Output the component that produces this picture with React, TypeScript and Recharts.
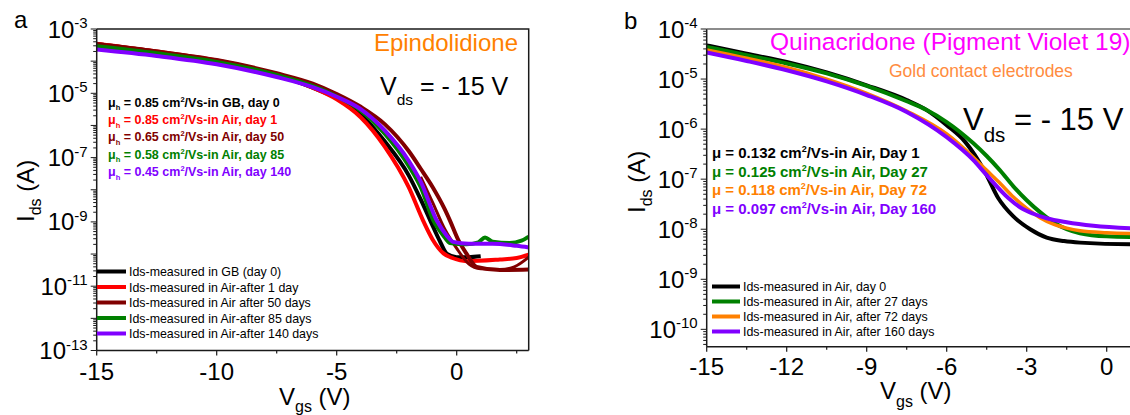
import React from 'react';
import { LineChart, Line, XAxis, YAxis } from 'recharts';

const FONT = '"Liberation Sans", Arial, Helvetica, sans-serif';

// ---------- Panel a : Epindolidione ----------
const aBlackV = [-15, -12.5, -10, -7.5, -6, -5, -4, -3, -2, -1.5, -1.1, -0.7, -0.4, 0, 0.5, 1.0];
const aBlackI = [3.4e-4, 1.95e-4, 1.0e-4, 3.7e-5, 1.5e-5, 7e-6, 2.2e-6, 3.2e-7, 2.8e-8, 5e-9, 1.1e-9, 2.5e-10, 1.0e-10, 8e-11, 8e-11, 8.5e-11];

const aRedV = [-15, -12.5, -10, -7.5, -6, -5, -4, -3, -2, -1.4, -1.0, -0.55, -0.15, 0.4, 1.8, 2.5, 3];
const aRedI = [3.5e-4, 2.0e-4, 1.05e-4, 3.8e-5, 1.5e-5, 6.5e-6, 1.8e-6, 2.2e-7, 1.2e-8, 1.1e-9, 2.8e-10, 1.05e-10, 7.4e-11, 6e-11, 6.8e-11, 7.5e-11, 9.5e-11];

const aDarkRedV = [-15, -12.5, -10, -7.5, -6, -5, -4, -3, -2, -1.5, -1, -0.5, -0.28, 0.07, 0.4, 0.83, 1.8, 3];
const aDarkRedI = [3.4e-4, 2.0e-4, 1.08e-4, 4.2e-5, 2.0e-5, 9.5e-6, 3.8e-6, 1.1e-6, 1.6e-7, 4.5e-8, 1.2e-8, 2.5e-9, 1.1e-9, 2.7e-10, 1.05e-10, 4e-11, 3.2e-11, 3.3e-11];

const aDarkRedRevV = [-1.5, -1, -0.5, 0, 0.5, 1, 1.8, 2.4, 3];
const aDarkRedRevI = [2.5e-8, 4e-9, 6e-10, 1.5e-10, 5e-11, 3.5e-11, 3.3e-11, 4e-11, 8e-11];

const aGreenV = [-15, -12.5, -10, -7.5, -6, -5, -4, -3, -2, -1.5, -0.97, -0.56, -0.28, 0.4, 0.9, 1.18, 1.5, 2.2, 2.7, 3];
const aGreenI = [2.9e-4, 1.75e-4, 9.5e-5, 3.7e-5, 1.7e-5, 8e-6, 2.9e-6, 5.5e-7, 5.5e-8, 1.2e-8, 1.1e-9, 3.8e-10, 2.2e-10, 2e-10, 2.3e-10, 3.3e-10, 2.4e-10, 2.2e-10, 2.6e-10, 3.5e-10];

const aPurpleV = [-15, -12.5, -10, -7.5, -6, -5, -4, -3, -2, -1.5, -0.83, -0.42, -0.15, 0.5, 1.5, 2.5, 3];
const aPurpleI = [2.3e-4, 1.45e-4, 8e-5, 3.2e-5, 1.55e-5, 7.8e-6, 3.2e-6, 7e-7, 8e-8, 1.8e-8, 1.1e-9, 3.8e-10, 2.4e-10, 2.1e-10, 2.1e-10, 1.8e-10, 1.6e-10];

const aXMajor = [-15, -10, -5, 0];
const aXMinor = [-12.5, -7.5, -2.5, 2.5];
const aYDecades = [-13, -12, -11, -10, -9, -8, -7, -6, -5, -4, -3];
const aYLabeled = [-13, -11, -9, -7, -5, -3];

const aMobility = [
  { mu: '0.85', tail: '/Vs-in GB, day 0', color: '#000000' },
  { mu: '0.85', tail: '/Vs-in Air, day 1', color: '#FF0000' },
  { mu: '0.65', tail: '/Vs-in Air, day 50', color: '#800000' },
  { mu: '0.58', tail: '/Vs-in Air, day 85', color: '#008000' },
  { mu: '0.45', tail: '/Vs-in Air, day 140', color: '#8000FF' },
];
const aLegend = [
  { name: 'Ids-measured in GB (day 0)', color: '#000000' },
  { name: 'Ids-measured in Air-after 1 day', color: '#FF0000' },
  { name: 'Ids-measured in Air after 50 days', color: '#800000' },
  { name: 'Ids-measured in Air-after 85 days', color: '#008000' },
  { name: 'Ids-measured in Air-after 140 days', color: '#8000FF' },
];

// ---------- Panel b : Quinacridone ----------
const bBlackV = [-15, -13.5, -12, -10.5, -9, -7.5, -6.75, -6, -5.3, -4.56, -4.07, -3.5, -2.87, -2.25, -1.6, -1.0, 0.87, 1.5];
const bBlackI = [4.7e-5, 3.2e-5, 2.2e-5, 1.35e-5, 7.5e-6, 3.8e-6, 2.4e-6, 1.2e-6, 5.5e-7, 1.38e-7, 4.2e-8, 1.8e-8, 1.0e-8, 6.8e-9, 5.8e-9, 5.4e-9, 5e-9, 5e-9];

const bGreenV = [-15, -13.5, -12, -10.5, -9, -7.5, -6.75, -6, -5, -4.5, -4, -3.5, -3, -2.5, -2, -1.5, -1, 0, 1.5];
const bGreenI = [4.4e-5, 3.0e-5, 2.05e-5, 1.3e-5, 7.3e-6, 3.6e-6, 2.4e-6, 1.38e-6, 5.2e-7, 2.9e-7, 1.5e-7, 7.2e-8, 3.8e-8, 2.2e-8, 1.38e-8, 1.0e-8, 8.3e-9, 7.2e-9, 6.9e-9];

const bOrangeV = [-15, -13.5, -12, -10.5, -9, -7.5, -6, -5, -4.5, -4, -3.5, -3, -2.5, -2, -1.5, -1, 0, 1.5];
const bOrangeI = [3.8e-5, 2.6e-5, 1.7e-5, 1.0e-5, 5.2e-6, 2.3e-6, 8e-7, 2.75e-7, 1.5e-7, 8.3e-8, 4.4e-8, 2.6e-8, 1.7e-8, 1.26e-8, 1.05e-8, 9.3e-9, 8.5e-9, 8.1e-9];

const bPurpleV = [-15, -13.5, -12, -10.5, -9, -7.5, -6, -5, -4.5, -3.69, -3.25, -2.75, -2.25, -1.5, -0.5, 1.5];
const bPurpleI = [3.4e-5, 2.3e-5, 1.5e-5, 9e-6, 4.8e-6, 2.2e-6, 6.9e-7, 2.4e-7, 1.2e-7, 4.2e-8, 2.75e-8, 2.04e-8, 1.66e-8, 1.38e-8, 1.17e-8, 1.02e-8];

const bXMajor = [-15, -12, -9, -6, -3, 0];
const bXMinor = [-13.5, -10.5, -7.5, -4.5, -1.5, 1.5];
const bYDecades = [-11, -10, -9, -8, -7, -6, -5, -4];
const bYLabeled = [-10, -9, -8, -7, -6, -5, -4];

const bMobility = [
  { mu: '0.132', tail: '/Vs-in Air, Day 1', color: '#000000' },
  { mu: '0.125', tail: '/Vs-in Air, Day 27', color: '#008000' },
  { mu: '0.118', tail: '/Vs-in Air, Day 72', color: '#FF8000' },
  { mu: '0.097', tail: '/Vs-in Air, Day 160', color: '#8000FF' },
];
const bLegend = [
  { name: 'Ids-measured in Air, day 0', color: '#000000' },
  { name: 'Ids-measured in Air, after 27 days', color: '#008000' },
  { name: 'Ids-measured in Air, after 72 days', color: '#FF8000' },
  { name: 'Ids-measured in Air, after 160 days', color: '#8000FF' },
];

// ---------- helpers ----------
const toRows = (vs: number[], is: number[]) => vs.map((v, k) => ({ v, i: is[k] }));
const logTicks = (decades: number[], lo: number) => {
  const out: number[] = [];
  decades.forEach((d, k) => {
    const base = Math.pow(10, d);
    if (base >= lo) out.push(base);
    if (k < decades.length - 1) {
      for (let m = 2; m <= 9; m++) if (m * base >= lo) out.push(m * base);
    }
  });
  return out;
};

const AXIS = '#1a1a1a';

const XTick = (props: any) => {
  const { x, y, payload, majors, labelDy } = props;
  const isMajor = majors.some((m: number) => Math.abs(m - payload.value) < 1e-9);
  return (
    <g>
      <line x1={x} x2={x} y1={y} y2={y + (isMajor ? 5 : 3)} stroke={AXIS} strokeWidth={1.2} />
      {isMajor && (
        <text x={x} y={y + labelDy} textAnchor="middle" fontSize={24} fontFamily={FONT} fill="#000">
          {String(payload.value)}
        </text>
      )}
    </g>
  );
};

const YTick = (props: any) => {
  const { x, y, payload, labeled } = props;
  const v = payload.value as number;
  const e = Math.round(Math.log10(v));
  const isDecade = Math.abs(v - Math.pow(10, e)) / Math.pow(10, e) < 1e-6;
  const len = isDecade ? 6 : 3.5;
  return (
    <g>
      <line x1={x} x2={x - len} y1={y} y2={y} stroke={AXIS} strokeWidth={1} />
      {isDecade && labeled.includes(e) && (
        <text x={x - 9} y={y + 8.5} textAnchor="end" fontSize={24} fontFamily={FONT} fill="#000">
          <tspan>10</tspan>
          <tspan dy={-9.5} fontSize={15}>{String(e)}</tspan>
        </text>
      )}
    </g>
  );
};

const series = (rows: any[], color: string, key: string, width = 4) => (
  <Line
    key={key}
    data={rows}
    dataKey="i"
    xAxisId="x"
    yAxisId="y"
    type="monotone"
    stroke={color}
    strokeWidth={width}
    dot={false}
    activeDot={false}
    isAnimationActive={false}
  />
);

const MuLine = ({ x, y, size, mu, tail, color, sub }: any) => (
  <text x={x} y={y} fontSize={size} fontWeight="bold" fontFamily={FONT} fill={color}>
    <tspan>μ</tspan>
    {sub ? <tspan dy={size * 0.3} fontSize={size * 0.6}>{sub}</tspan> : null}
    <tspan dy={sub ? -size * 0.3 : 0}>{' = ' + mu + ' cm'}</tspan>
    <tspan dy={-size * 0.4} fontSize={size * 0.6}>2</tspan>
    <tspan dy={size * 0.4}>{tail}</tspan>
  </text>
);

export default function App() {
  const aTicksY = logTicks(aYDecades, 1e-13);
  const bTicksY = logTicks(bYDecades, 4.5e-11);
  const aTicksX = [...aXMajor, ...aXMinor].sort((p, q) => p - q);
  const bTicksX = [...bXMajor, ...bXMinor].sort((p, q) => p - q);

  return (
    <div
      style={{
        position: 'absolute',
        left: 0,
        top: 0,
        width: 1130,
        height: 415,
        overflow: 'hidden',
        background: '#fff',
        fontFamily: FONT,
      }}
    >
      {/* Panel a */}
      <div style={{ position: 'absolute', left: 0, top: 0 }}>
        <LineChart width={560} height={415} margin={{ top: 29, left: 16.7, right: 31.3, bottom: 14.5 }}>
          <XAxis
            xAxisId="x"
            dataKey="v"
            type="number"
            domain={[-15, 3]}
            allowDataOverflow
            ticks={aTicksX}
            interval={0}
            height={50}
            tickSize={0}
            tickMargin={0}
            tickLine={false}
            axisLine={{ stroke: AXIS, strokeWidth: 1.5 }}
            tick={(p: any) => <XTick {...p} majors={aXMajor} labelDy={29.5} />}
          />
          <YAxis
            yAxisId="y"
            type="number"
            scale="log"
            domain={[1e-13, 1e-3]}
            allowDataOverflow
            ticks={aTicksY}
            interval={0}
            width={80}
            tickSize={0}
            tickMargin={0}
            tickLine={false}
            axisLine={{ stroke: AXIS, strokeWidth: 1.5 }}
            tick={(p: any) => <YTick {...p} labeled={aYLabeled} />}
          />
          {series(toRows(aBlackV, aBlackI), '#000000', 'ab')}
          {series(toRows(aRedV, aRedI), '#FF0000', 'ar')}
          {series(toRows(aDarkRedRevV, aDarkRedRevI), '#800000', 'adr2', 3)}
          {series(toRows(aDarkRedV, aDarkRedI), '#800000', 'adr')}
          {series(toRows(aGreenV, aGreenI), '#008000', 'ag')}
          {series(toRows(aPurpleV, aPurpleI), '#8000FF', 'ap')}
        </LineChart>
      </div>

      {/* Panel b */}
      <div style={{ position: 'absolute', left: 560, top: 0 }}>
        <LineChart width={600} height={415} margin={{ top: 29, left: 66.7, right: 13.3, bottom: 18.3 }}>
          <XAxis
            xAxisId="x"
            dataKey="v"
            type="number"
            domain={[-15, 1.5]}
            allowDataOverflow
            ticks={bTicksX}
            interval={0}
            height={50}
            tickSize={0}
            tickMargin={0}
            tickLine={false}
            axisLine={{ stroke: AXIS, strokeWidth: 1.5 }}
            tick={(p: any) => <XTick {...p} majors={bXMajor} labelDy={28.5} />}
          />
          <YAxis
            yAxisId="y"
            type="number"
            scale="log"
            domain={[4.5e-11, 1e-4]}
            allowDataOverflow
            ticks={bTicksY}
            interval={0}
            width={80}
            tickSize={0}
            tickMargin={0}
            tickLine={false}
            axisLine={{ stroke: AXIS, strokeWidth: 1.5 }}
            tick={(p: any) => <YTick {...p} labeled={bYLabeled} />}
          />
          {series(toRows(bBlackV, bBlackI), '#000000', 'bb')}
          {series(toRows(bGreenV, bGreenI), '#008000', 'bg')}
          {series(toRows(bOrangeV, bOrangeI), '#FF8000', 'bo', 3.5)}
          {series(toRows(bPurpleV, bPurpleI), '#8000FF', 'bp')}
        </LineChart>
      </div>

      {/* Annotations and frame */}
      <svg width={1130} height={415} style={{ position: 'absolute', left: 0, top: 0, pointerEvents: 'none' }}>
        <polyline points="96.7,29 528.7,29 528.7,350.5" fill="none" stroke={AXIS} strokeWidth={1.5} />
        <line x1={706.7} x2={1130} y1={29} y2={29} stroke="#666" strokeWidth={1.5} />
        <g fontFamily={FONT}>
          <text x={14} y={28} fontSize={24} fill="#000">a</text>
          <text x={624} y={29} fontSize={24} fill="#000">b</text>

          {/* panel a texts */}
          <text x={518} y={51} fontSize={24} fill="#FF8000" textAnchor="end">Epindolidione</text>
          <text x={380} y={95} fontSize={25} fill="#000">
            <tspan>V</tspan>
            <tspan dy={10} fontSize={15.5}>ds</tspan>
            <tspan dy={-10}>{' = - 15 V'}</tspan>
          </text>
          {aMobility.map((m, k) => (
            <MuLine key={k} x={108} y={106.5 + k * 17.4} size={12.5} mu={m.mu} tail={m.tail} color={m.color} sub="h" />
          ))}
          {aLegend.map((l, k) => (
            <g key={k}>
              <line x1={97} x2={126} y1={271.5 + k * 15.5} y2={271.5 + k * 15.5} stroke={l.color} strokeWidth={4} />
              <text x={129} y={276 + k * 15.5} fontSize={12.4} fill="#000">{l.name}</text>
            </g>
          ))}
          <text transform="translate(34,222) rotate(-90)" fontSize={24} fill="#000">
            <tspan>I</tspan>
            <tspan dy={7} fontSize={16}>ds</tspan>
            <tspan dy={-7}>{' (A)'}</tspan>
          </text>
          <text x={279} y={405} fontSize={24} fill="#000">
            <tspan>V</tspan>
            <tspan dy={7} fontSize={16}>gs</tspan>
            <tspan dy={-7}>{' (V)'}</tspan>
          </text>

          {/* panel b texts */}
          <text x={770} y={50} fontSize={24.5} fill="#FF00FF">Quinacridone (Pigment Violet 19)</text>
          <text x={889} y={76.5} fontSize={17.5} fill="#FF8C40">Gold contact electrodes</text>
          <text x={963} y={130} fontSize={31} fill="#000">
            <tspan>V</tspan>
            <tspan dy={12} fontSize={20.5}>ds</tspan>
            <tspan dy={-12}>{' = - 15 V'}</tspan>
          </text>
          {bMobility.map((m, k) => (
            <MuLine key={k} x={712} y={158 + k * 18.7} size={15} mu={m.mu} tail={m.tail} color={m.color} />
          ))}
          {bLegend.map((l, k) => (
            <g key={k}>
              <line x1={712} x2={740} y1={286.5 + k * 15} y2={286.5 + k * 15} stroke={l.color} strokeWidth={4} />
              <text x={743} y={291 + k * 15} fontSize={12.4} fill="#000">{l.name}</text>
            </g>
          ))}
          <text transform="translate(645,213) rotate(-90)" fontSize={24} fill="#000">
            <tspan>I</tspan>
            <tspan dy={7} fontSize={16}>ds</tspan>
            <tspan dy={-7}>{' (A)'}</tspan>
          </text>
          <text x={880} y={399} fontSize={24} fill="#000">
            <tspan>V</tspan>
            <tspan dy={8} fontSize={16}>gs</tspan>
            <tspan dy={-8}>{' (V)'}</tspan>
          </text>
        </g>
      </svg>
    </div>
  );
}
